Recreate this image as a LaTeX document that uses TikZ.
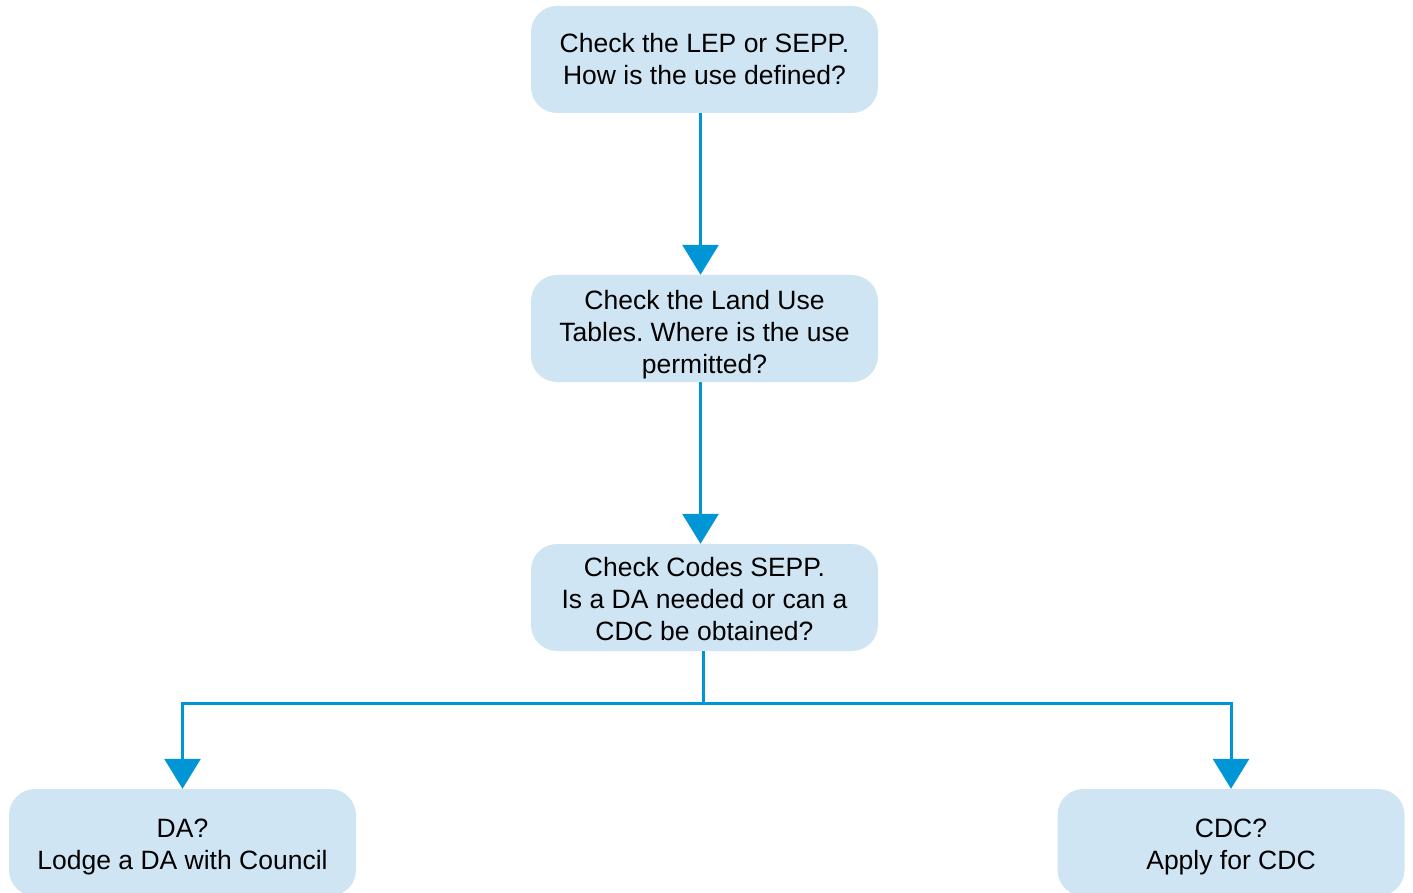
\documentclass[tikz,border=0pt]{standalone}
\usepackage{fontspec}
\setmainfont{Liberation Sans}
\usepackage{tikz}
\usetikzlibrary{arrows.meta}
\frenchspacing
\definecolor{boxfill}{RGB}{208,229,244}
\definecolor{flowblue}{RGB}{0,150,214}
\tikzstyle{stage} = [rectangle, rounded corners=26pt, fill=boxfill, minimum width=347pt, minimum height=107pt, inner sep=0pt, align=center, font=\fontsize{26.5}{32}\selectfont]
\tikzstyle{flow} = [draw=flowblue, line width=3pt, -{Triangle[width=36pt,length=30pt]}, color=flowblue]
\newcommand{\stagetext}[2]{\raisebox{-#1}[\height][\depth]{\parbox{347pt}{\centering #2}}}

\begin{document}
\begin{tikzpicture}[x=1pt,y=-1pt]
      \useasboundingbox (0,0) rectangle (1413,893);
      \node[stage] (lep)   at (704.5,59.5)  {Check the LEP or SEPP.\\How is the use defined?};
      \node[stage] (table) at (704.5,328.5) {\stagetext{6pt}{Check the Land Use\\Tables. Where is the use\\permitted?}};
      \node[stage] (codes) at (704.5,597.5) {\stagetext{2pt}{Check Codes SEPP.\\Is a DA needed or can a\\CDC be obtained?}};
      \node[stage] (da)    at (182.5,842.5) {\stagetext{4pt}{DA?\\Lodge a DA with Council}};
      \node[stage] (cdc)   at (1231,842.5)  {\stagetext{4pt}{CDC?\\Apply for CDC}};
      \coordinate (split) at (703,703);
      \draw[flow] ([xshift=-4pt]lep.south)   -- ([xshift=-4pt]table.north);
      \draw[flow] ([xshift=-4pt]table.south) -- ([xshift=-4pt]codes.north);
      \draw[draw=flowblue, line width=3pt] ([xshift=-1.5pt]codes.south) -- (split);
      \draw[flow] (split) -| (da.north);
      \draw[flow] (split) -| (cdc.north);
    \end{tikzpicture}
\end{document}
